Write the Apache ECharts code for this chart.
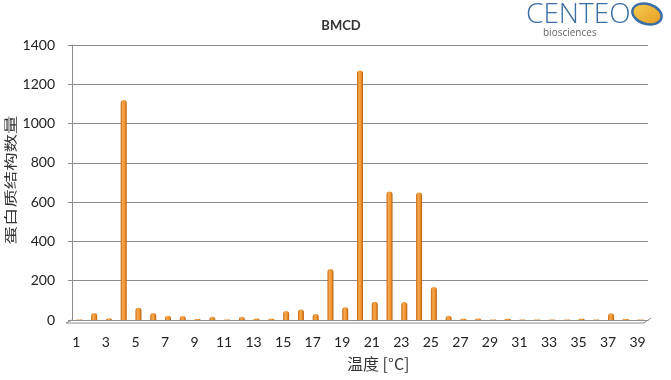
<!DOCTYPE html>
<html>
<head>
<meta charset="utf-8">
<script src="https://cdn.jsdelivr.net/npm/echarts@6/dist/echarts.min.js"></script>
<style>html,body{margin:0;padding:0;background:#fff;}#c{width:671px;height:380px;}</style>
</head>
<body>
<div id="c"></div>
<script>
const categories = ['1','2','3','4','5','6','7','8','9','10','11','12','13','14','15','16','17','18','19','20','21','22','23','24','25','26','27','28','29','30','31','32','33','34','35','36','37','38','39'];
const counts = [3,36,8,1120,63,36,22,20,5,17,3,17,8,7,46,54,31,260,65,1270,93,654,92,649,168,22,6,8,2,6,2,3,2,2,6,3,34,5,2];
const yTicks = [0,200,400,600,800,1000,1200,1400];
const titleText = 'BMCD';
const yName = '蛋白质结构数量';
const xName = '温度 [°C]';

const chart = echarts.init(document.getElementById('c'), null, {renderer:'canvas'});
const barColor = new echarts.graphic.LinearGradient(0,0,1,0,[
  {offset:0,color:'#c4660f'},{offset:0.35,color:'#f8aa50'},{offset:0.65,color:'#f29630'},{offset:1,color:'#b85d0c'}]);
const option = {
  animation:false,
  backgroundColor:'#fff',
  title:{text:titleText,left:336,top:14,textAlign:'center',textStyle:{fontFamily:'Lato',fontWeight:'bold',fontSize:13,color:'#333'}},
  grid:{left:72,right:23,top:45,bottom:60,containLabel:false},
  xAxis:{type:'category',data:categories,
    axisLine:{show:true,lineStyle:{color:'#8c8c8c',width:1}},
    axisTick:{show:false},
    axisLabel:{interval:1,margin:15,padding:[0,6,0,0],fontFamily:'Lato',fontSize:14,color:'#222'}},
  yAxis:{type:'value',min:yTicks[0],max:yTicks[yTicks.length-1],interval:200,
    axisLine:{show:true,lineStyle:{color:'#8c8c8c'}},
    axisTick:{show:true,length:4,lineStyle:{color:'#8c8c8c'}},
    axisLabel:{margin:17,fontFamily:'Lato',fontSize:14,color:'#222',formatter:function(v){return String(v);}},
    splitLine:{show:true,lineStyle:{color:'#8c8c8c',width:1}}},
  series:[{type:'bar',data:counts,barWidth:6,itemStyle:{color:barColor,borderRadius:[3,3,0,0]}}],
  graphic:[]
};
chart.setOption(option);

const rect = chart.getModel().getComponent('grid').coordinateSystem.getRect();
const by = rect.y + rect.height;
const gfx = [
  {type:'polyline',shape:{points:[[rect.x-6,by+3],[rect.x+rect.width-4,by+3],[rect.x+rect.width+3,by-2]]},style:{stroke:'#8c8c8c',lineWidth:1,fill:null},z:1},
  {type:'line',shape:{x1:rect.x-6,y1:by+3,x2:rect.x,y2:by},style:{stroke:'#8c8c8c',lineWidth:1},z:1},
  {type:'text',x:10,y:180,rotation:Math.PI/2,scaleX:1.15,scaleY:0.8,
    style:{text:yName,font:'16px "Noto Sans CJK SC"',fill:'#333',textAlign:'center',textVerticalAlign:'middle'}},
  {type:'text',left:347,top:356,style:{text:xName,font:'16px "Noto Sans CJK SC"',fill:'#333'}},
  {type:'text',left:526,top:1,style:{text:'CENTEO',font:'300 28px "Open Sans"',fill:'#3a6ea6'}},
  {type:'text',left:543,top:28,style:{text:'biosciences',font:'10px "Open Sans"',fill:'#666'}},
  {type:'ellipse',shape:{cx:647,cy:14,rx:15,ry:10},rotation:-0.3,originX:647,originY:14,
    style:{fill:new echarts.graphic.LinearGradient(0,0,1,1,[{offset:0,color:'#f7cf55'},{offset:1,color:'#e39a1e'}]),stroke:'#3a6ea6',lineWidth:2.5}}
];
chart.setOption({graphic:gfx});
</script>
</body>
</html>
